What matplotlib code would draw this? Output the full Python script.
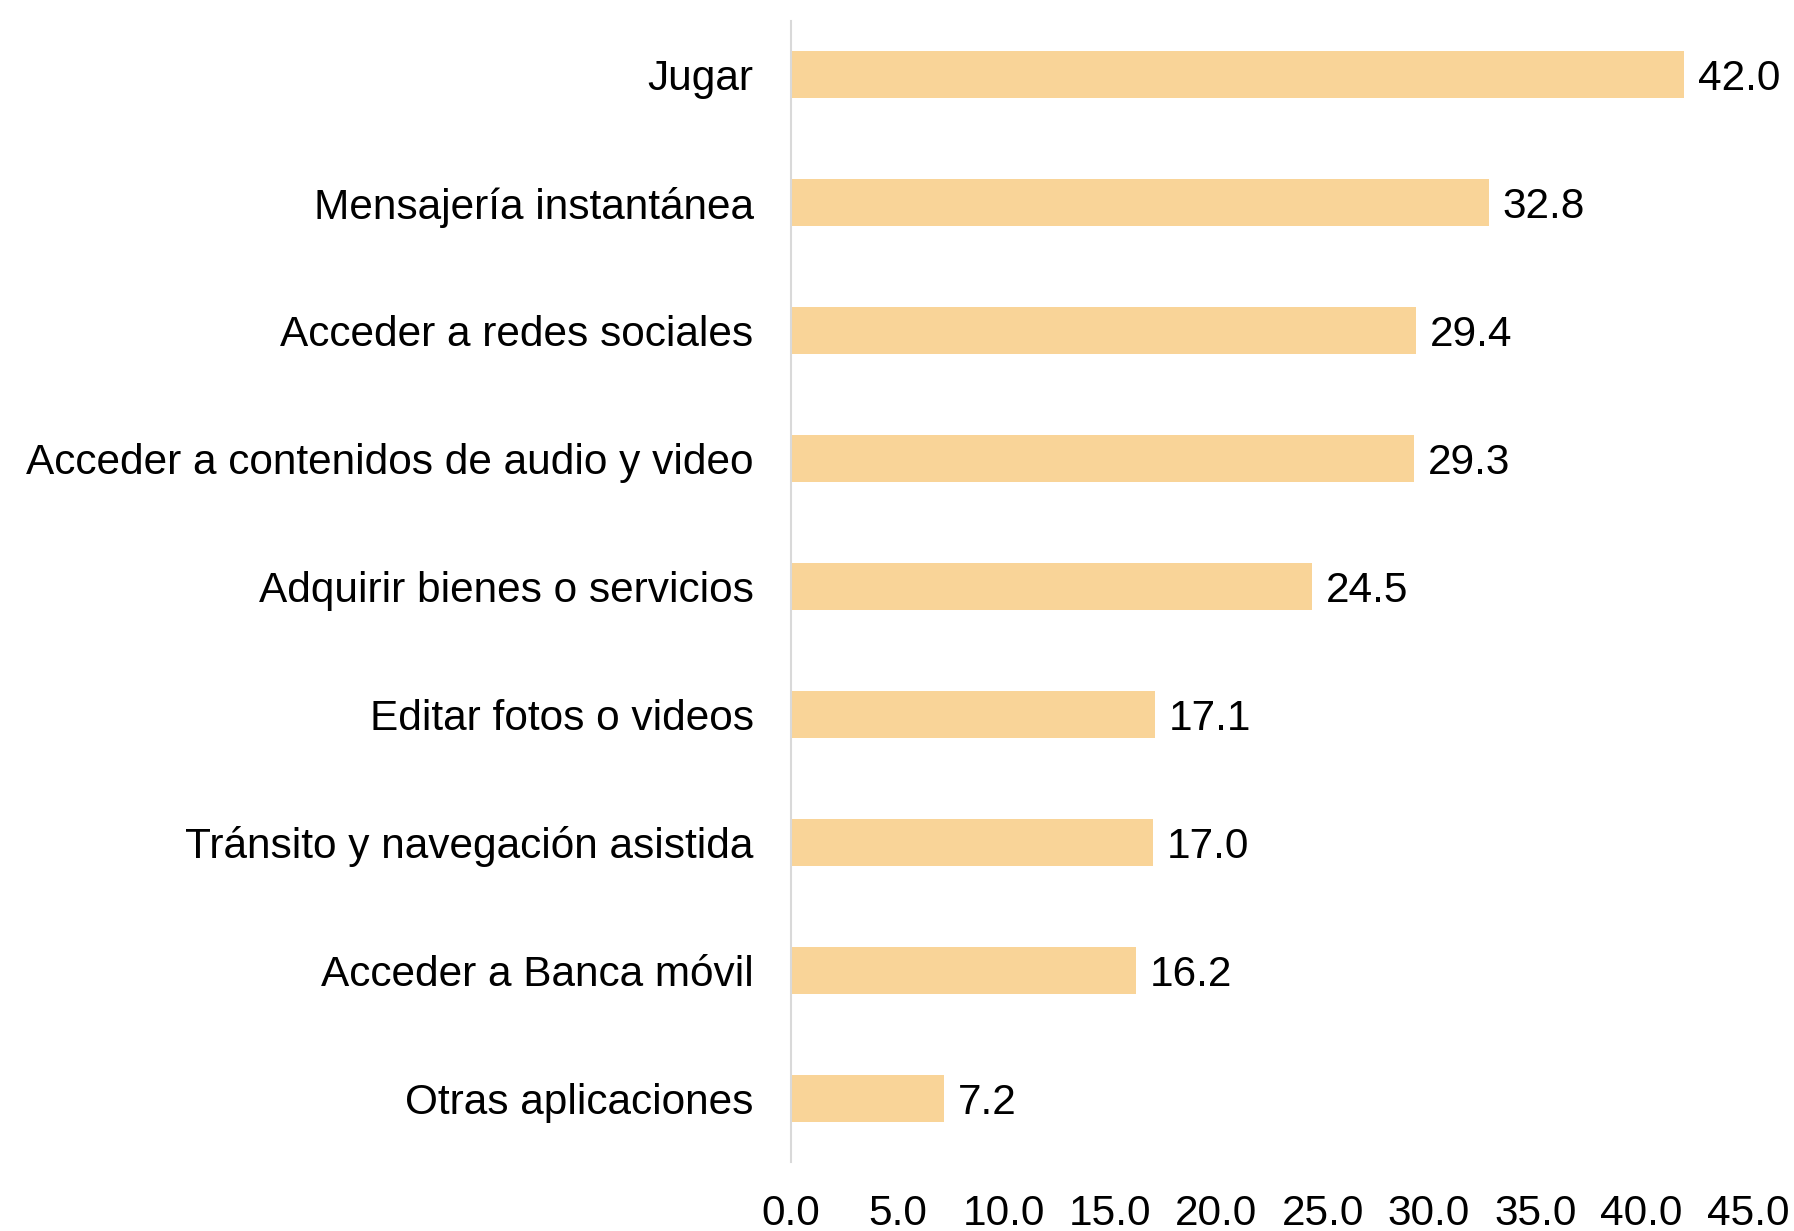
import matplotlib.pyplot as plt

# Datos (de abajo hacia arriba)
categorias = ['Otras aplicaciones', 'Acceder a Banca móvil', 'Tránsito y navegación asistida',
              'Editar fotos o videos', 'Adquirir bienes o servicios',
              'Acceder a contenidos de audio y video', 'Acceder a redes sociales',
              'Mensajería instantánea', 'Jugar']
valores = [7.2, 16.2, 17.0, 17.1, 24.5, 29.3, 29.4, 32.8, 42.0]
ticks_x = [0, 5, 10, 15, 20, 25, 30, 35, 40, 45]

plt.rcParams['font.family'] = ['Liberation Sans', 'DejaVu Sans']

fig = plt.figure(figsize=(17.94, 12.31), dpi=100)
ax = fig.add_axes([791 / 1794, 1 - 1162 / 1231, (1748 - 791) / 1794, (1162 - 21) / 1231])

pos = range(len(categorias))
barras = ax.barh(pos, valores, height=0.367, color='#F9D498')
for b, v in zip(barras, valores):
    ax.text(v + 0.65, b.get_y() + b.get_height() / 2, f'{v:.1f}',
            va='center_baseline', ha='left', fontsize=30.5)

ax.set_yticks(list(pos))
ax.set_yticklabels(categorias, fontsize=30.5, va='center_baseline')
ax.set_xticks(ticks_x)
ax.set_xticklabels([f'{t:.1f}' for t in ticks_x], fontsize=30.5)
ax.set_xlim(0, 45)
ax.set_ylim(-0.5, 8.42)

ax.tick_params(axis='both', length=0)
ax.tick_params(axis='y', pad=27)
ax.tick_params(axis='x', pad=23)
for s in ['top', 'right', 'bottom']:
    ax.spines[s].set_visible(False)
ax.spines['left'].set_color('#D9D9D9')
ax.spines['left'].set_linewidth(1.5)

plt.savefig('out.png', dpi=100)
